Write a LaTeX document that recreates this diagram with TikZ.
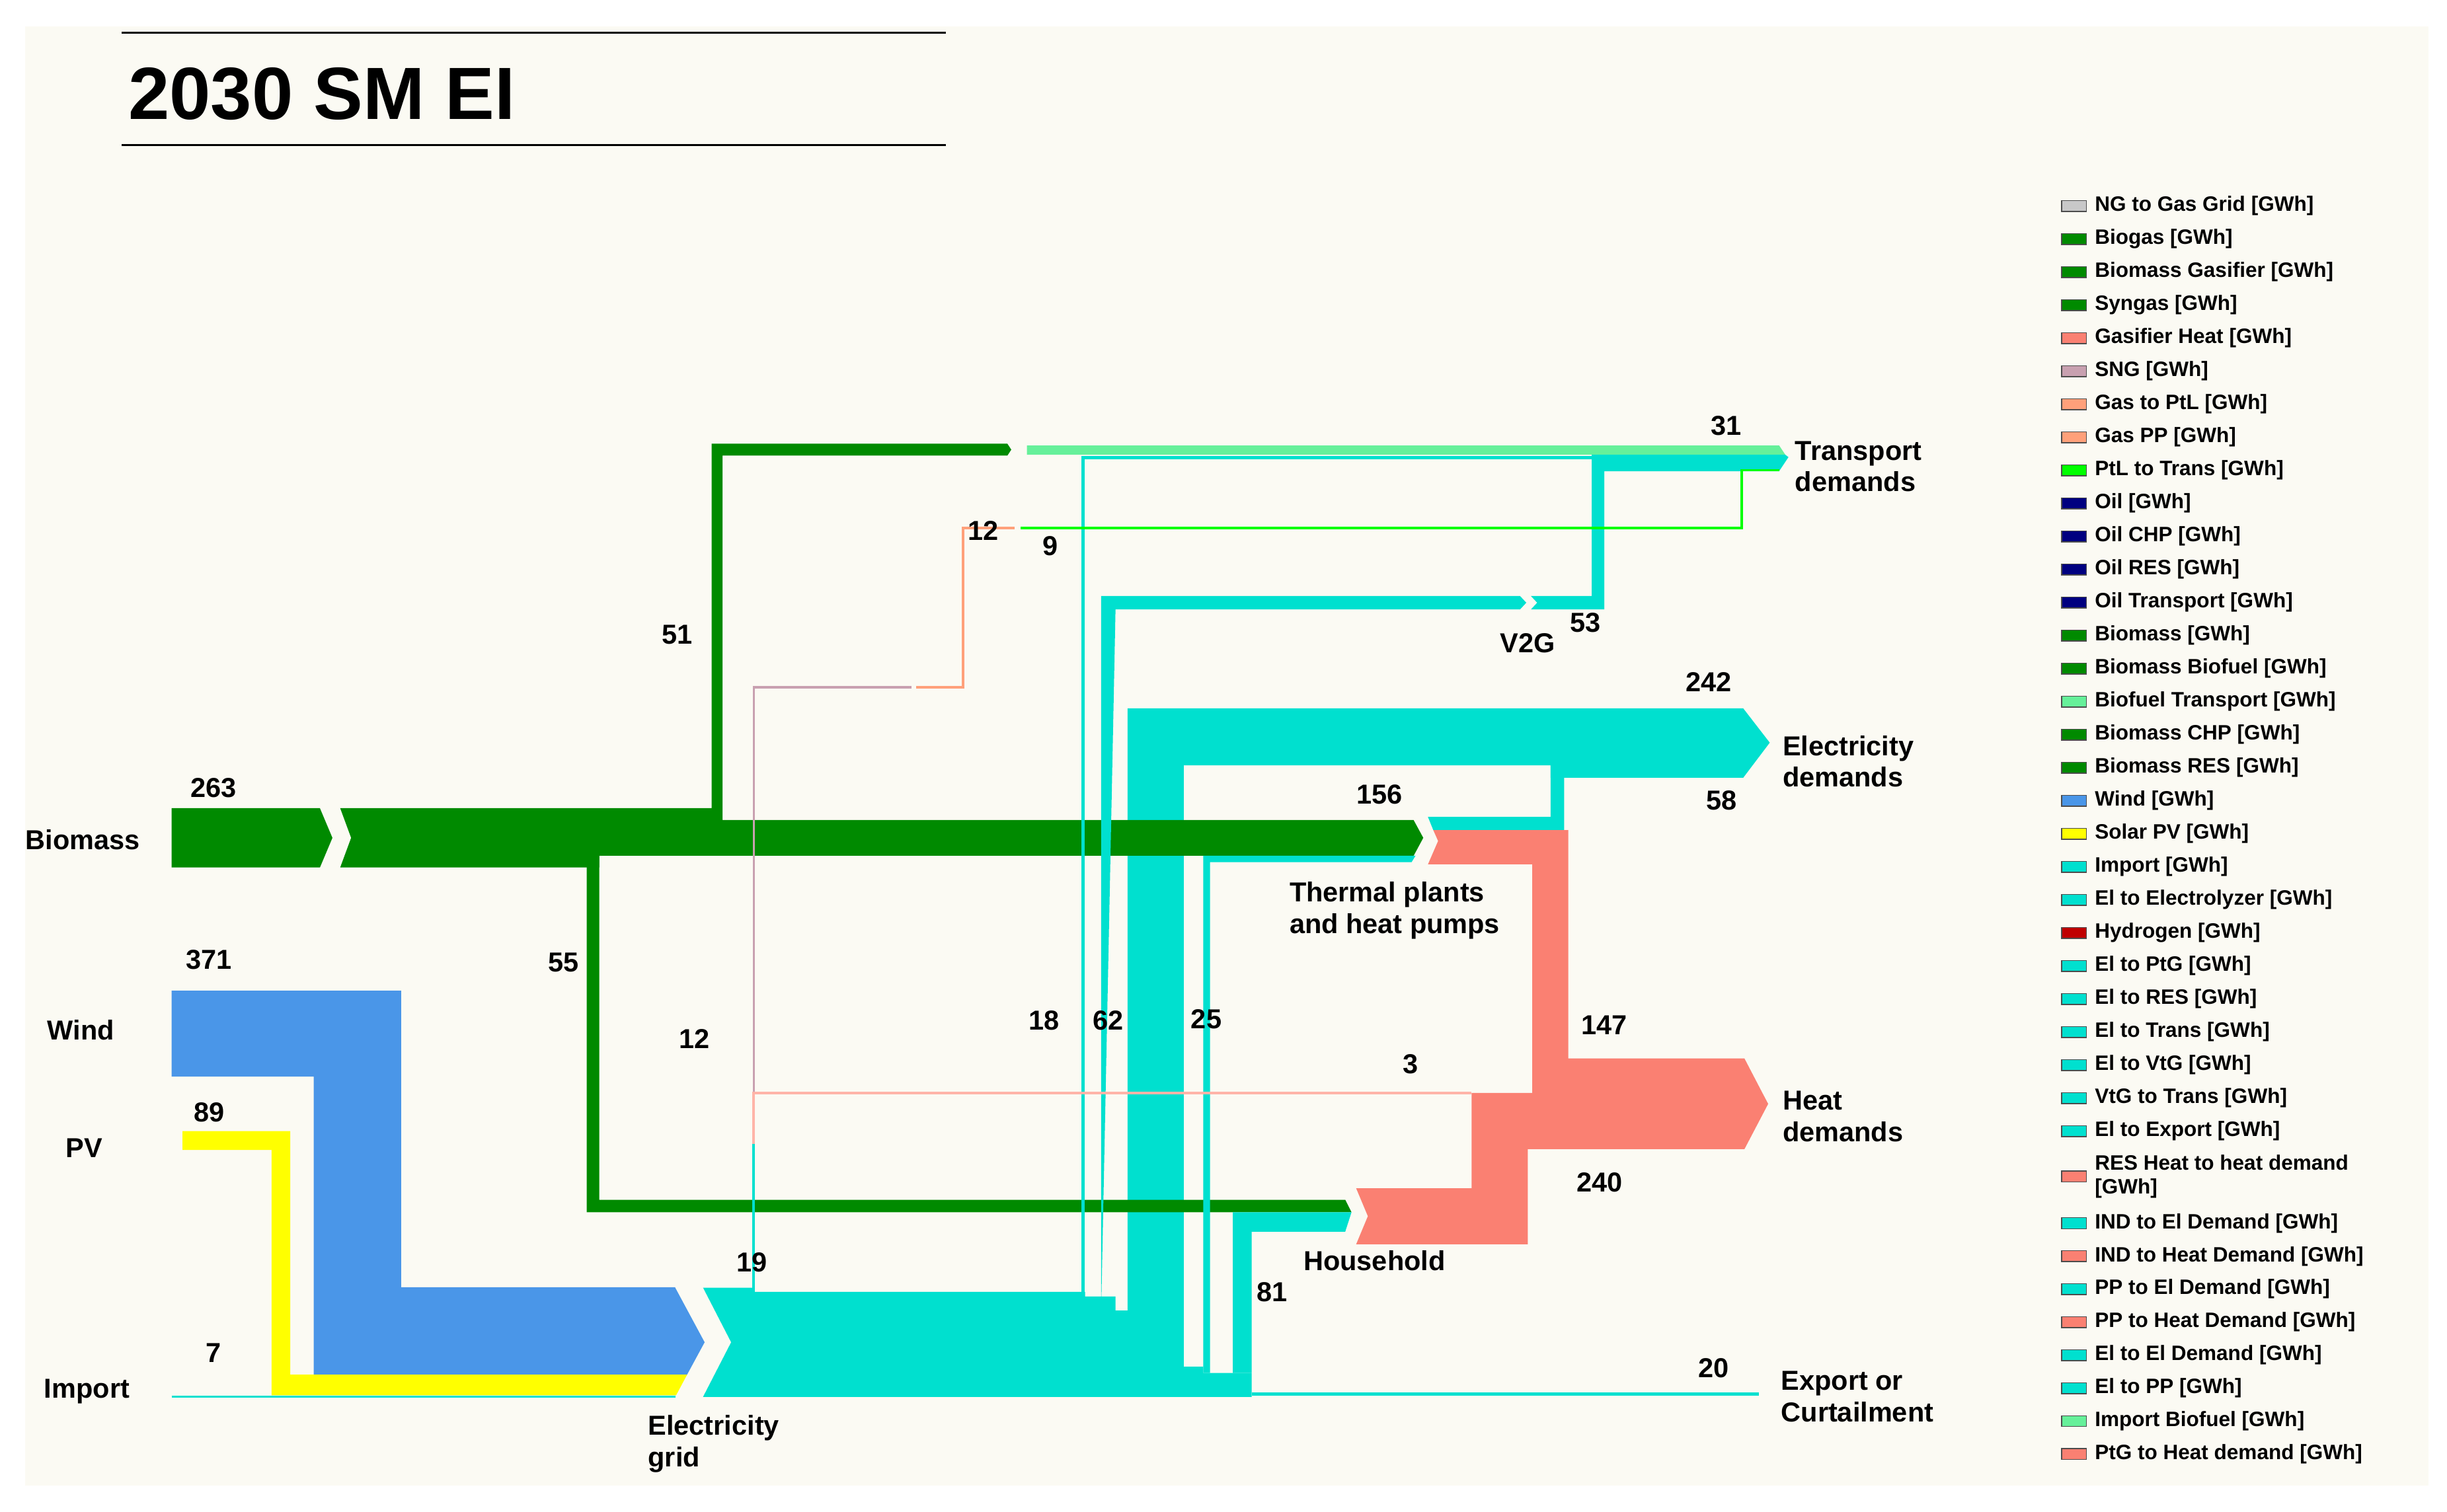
\documentclass[tikz,border=0pt]{standalone}
\usepackage{fontspec}
\setmainfont{Liberation Sans}
\usetikzlibrary{positioning}

\definecolor{bgcream}{HTML}{FBFAF3}
\definecolor{bmgreen}{HTML}{008A00}
\definecolor{elcyan}{HTML}{00E0CF}
\definecolor{windblue}{HTML}{4A96E8}
\definecolor{pvyellow}{HTML}{FFFF00}
\definecolor{heatsalmon}{HTML}{FA8072}
\definecolor{ltsalmon}{HTML}{FFA07A}
\definecolor{palesalmon}{HTML}{FFB4A8}
\definecolor{biofuel}{HTML}{66F09A}
\definecolor{ptlgreen}{HTML}{00FF00}
\definecolor{sngmauve}{HTML}{C8A0B0}
\definecolor{oilnavy}{HTML}{000080}
\definecolor{hydred}{HTML}{C00000}
\definecolor{nggray}{HTML}{C8C8C8}

\tikzset{
  lbl/.style={font=\bfseries\fontsize{10}{11.5}\selectfont, inner sep=0pt},
  sink/.style={lbl, anchor=west, align=left},
  leg/.style={font=\bfseries\fontsize{7.6}{8.6}\selectfont, inner sep=0pt, anchor=west, align=left},
  w/.style={line width=#1*0.02cm},
}

\begin{document}
\begin{tikzpicture}[x=0.02cm, y=-0.02cm, line join=miter]
  \useasboundingbox (0,0) rectangle (1568,969);
  \fill[white] (0,0) rectangle (1568,969);
  \fill[bgcream] (16,17) rectangle (1556,952);

  % title
  \draw[w=1.5] (78,21) -- (606,21);
  \draw[w=1.5] (78,93) -- (606,93);
  \node[anchor=west, inner sep=0pt, font=\bfseries\fontsize{27}{30}\selectfont] (title) at (82,60) {2030 SM EI};

  % inputs
  \fill[bmgreen] (110,518) -- (205,518) -- (213,537) -- (205,556) -- (110,556) -- cycle;
  \fill[windblue] (110,635) -- (257,635) -- (257,825) -- (432.5,825) -- (451.5,860.3)
    -- (440.3,881) -- (201,881) -- (201,690) -- (110,690) -- cycle;
  \fill[pvyellow] (117,725) -- (186,725) -- (186,881) -- (440.3,881) -- (433.2,894.3)
    -- (174,894.3) -- (174,737) -- (117,737) -- cycle;
  \draw[elcyan, w=1.3] (110,895.2) -- (433,895.2);

  % electricity grid
  \fill[elcyan] (450.5,825.3) -- (483,825.3) -- (483,828) -- (695.3,828) -- (695.3,831)
    -- (714.8,831) -- (714.8,840) -- (722.5,840) -- (722.5,876) -- (771,876) -- (771,880)
    -- (802,880) -- (802,895.3) -- (450.5,895.3) -- (468.5,860.3) -- cycle;
  \draw[elcyan, w=2.2] (802,893.6) -- (1127,893.6);

  % electricity demands
  \fill[elcyan] (722.5,880) -- (722.5,454) -- (1117,454) -- (1134,476) -- (1117,498.5)
    -- (993.6,498.5) -- (993.6,490.5) -- (758.5,490.5) -- (758.5,876) -- cycle;
  \fill[elcyan] (915,523.6) -- (993.6,523.6) -- (993.6,490.5) -- (1002.3,490.5)
    -- (1002.3,532) -- (918.4,532) -- cycle;

  % heat demands
  \fill[heatsalmon] (918.4,532) -- (1004.9,532) -- (1004.9,678.4) -- (1117.8,678.4)
    -- (1129.3,700.5) -- (981.8,700.5) -- (981.8,554) -- (915,554) -- (921.5,539) -- cycle;
  \fill[heatsalmon] (943,700.5) -- (1129.3,700.5) -- (1133,707.5) -- (1117.8,736.5)
    -- (979,736.5) -- (979,797.5) -- (869,797.5) -- (876.5,779.5) -- (869,761.6)
    -- (943,761.6) -- cycle;

  % biomass
  \fill[bmgreen] (218,518) -- (456,518) -- (456,284.4) -- (645.5,284.4) -- (648,288.2)
    -- (645.5,292) -- (463,292) -- (463,525.6) -- (905.8,525.6) -- (912,537)
    -- (905.8,548.5) -- (384,548.5) -- (384,556) -- (218,556) -- (225,537) -- cycle;
  \fill[bmgreen] (376,548) -- (384,548) -- (384,769) -- (862,769) -- (866,777)
    -- (376,777) -- cycle;

  % el to heat pumps, el to household
  \fill[elcyan] (771,880) -- (771,548.5) -- (907,548.5) -- (904.5,552.6) -- (775.4,552.6)
    -- (775.4,880) -- cycle;
  \fill[elcyan] (790,880) -- (790,777) -- (866,777) -- (862,789.4) -- (802,789.4)
    -- (802,880) -- cycle;

  % transport and V2G
  \fill[biofuel] (658,285.5) -- (1140,285.5) -- (1144,291.5) -- (658,291.5) -- cycle;
  \fill[elcyan] (705.6,840) -- (705.6,382) -- (974,382) -- (978,386.3) -- (974,390.6)
    -- (714.8,390.6) -- cycle;
  \fill[elcyan] (981,382) -- (1020,382) -- (1020,291.5) -- (1144,291.5) -- (1146,293)
    -- (1140,302) -- (1028,302) -- (1028,390.6) -- (981,390.6) -- (985,386.3) -- cycle;
  \draw[elcyan, w=2] (694,831) -- (694,293.3) -- (1020,293.3);
  \draw[ptlgreen, w=1.4] (654,338.4) -- (1116,338.4) -- (1116,301.3) -- (1140,301.3);
  \draw[ltsalmon, w=1.6] (587,440.5) -- (617,440.5) -- (617,338.4) -- (650,338.4);
  \draw[sngmauve, w=1.4] (483,700.5) -- (483,440.5) -- (584,440.5);
  \draw[palesalmon, w=1.6] (483,733) -- (483,700.5) -- (943,700.5);
  \draw[elcyan, w=1.8] (483,828) -- (483,733);

  % node labels
  \node[sink] (biomass) at (16,538) {Biomass};
  \node[sink] (wind) at (30,660) {Wind};
  \node[sink] (pv) at (42,736) {PV};
  \node[sink] (import) at (28,892) {Import};
  \node[sink] (grid) at (415,925.5) {Electricity\\grid};
  \node[sink] (trans) at (1150,299) {Transport\\demands};
  \node[sink] (eldem) at (1142,488) {Electricity\\demands};
  \node[sink] (thermal) at (826,583.5) {Thermal plants\\and heat pumps};
  \node[sink] (heatdem) at (1142,715.5) {Heat\\demands};
  \node[sink] (house) at (835,808) {Household};
  \node[sink] (v2g) at (961,412) {V2G};
  \node[sink] (export) at (1141,895) {Export or\\Curtailment};

  % flow values
  \foreach \v/\px/\py [count=\i] in {263/137/505, 371/134/615, 89/134/713, 7/137/867,
      19/482/809, 12/445/666, 55/361/617, 51/434/407, 12/630/340, 9/673/350,
      18/669/654, 62/710/654, 25/773/653, 53/1016/399, 31/1106/273, 242/1095/437,
      58/1103/513, 156/884/509, 147/1028/657, 3/904/682, 240/1025/758, 81/815/828,
      20/1098/877}
    \node[lbl] (val\i) at (\px,\py) {\v};

  % legend
  \foreach \c/\t [count=\i from 0] in {nggray/NG to Gas Grid [GWh], bmgreen/Biogas [GWh],
      bmgreen/Biomass Gasifier [GWh], bmgreen/Syngas [GWh], heatsalmon/Gasifier Heat [GWh],
      sngmauve/SNG [GWh], ltsalmon/Gas to PtL [GWh], ltsalmon/Gas PP [GWh],
      ptlgreen/PtL to Trans [GWh], oilnavy/Oil [GWh], oilnavy/Oil CHP [GWh],
      oilnavy/Oil RES [GWh], oilnavy/Oil Transport [GWh], bmgreen/Biomass [GWh],
      bmgreen/Biomass Biofuel [GWh], biofuel/Biofuel Transport [GWh],
      bmgreen/Biomass CHP [GWh], bmgreen/Biomass RES [GWh], windblue/Wind [GWh],
      pvyellow/Solar PV [GWh], elcyan/Import [GWh], elcyan/El to Electrolyzer [GWh],
      hydred/Hydrogen [GWh], elcyan/El to PtG [GWh], elcyan/El to RES [GWh],
      elcyan/El to Trans [GWh], elcyan/El to VtG [GWh], elcyan/VtG to Trans [GWh],
      elcyan/El to Export [GWh]} {
    \filldraw[fill=\c, draw=black!70, w=0.6] (1321,128.5+21.18*\i) rectangle (1337,135.5+21.18*\i);
    \node[leg] (leg\i) at (1342,132+21.18*\i) {\t};
  }
  \filldraw[fill=heatsalmon, draw=black!70, w=0.6] (1321,750.5) rectangle (1337,757.5);
  \node[leg] (legres) at (1342,754) {RES Heat to heat demand\\{}[GWh]};
  \foreach \c/\t [count=\i from 0] in {elcyan/IND to El Demand [GWh],
      heatsalmon/IND to Heat Demand [GWh], elcyan/PP to El Demand [GWh],
      heatsalmon/PP to Heat Demand [GWh], elcyan/El to El Demand [GWh],
      elcyan/El to PP [GWh], biofuel/Import Biofuel [GWh],
      heatsalmon/PtG to Heat demand [GWh]} {
    \filldraw[fill=\c, draw=black!70, w=0.6] (1321,780.5+21.14*\i) rectangle (1337,787.5+21.14*\i);
    \node[leg] (legb\i) at (1342,784+21.14*\i) {\t};
  }
\end{tikzpicture}
\end{document}
